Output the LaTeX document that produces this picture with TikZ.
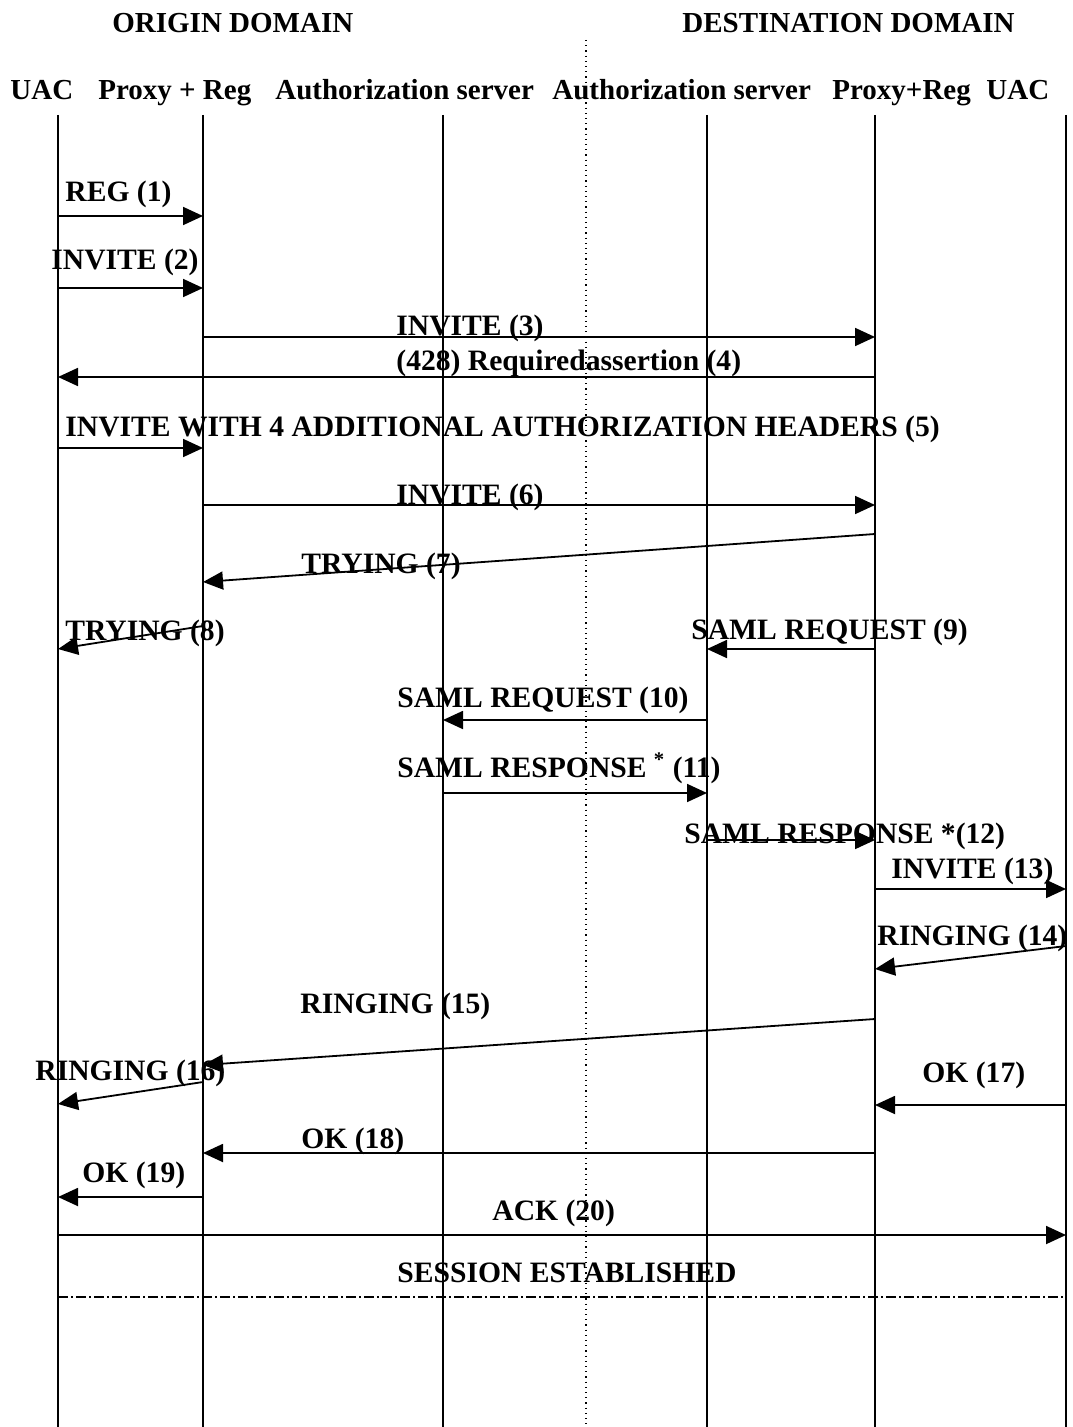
\documentclass[tikz,border=0pt]{standalone}
\usepackage{fontspec}
\setmainfont{Liberation Serif}
\usetikzlibrary{arrows.meta}

\begin{document}
\begin{tikzpicture}[x=0.5pt, y=-0.5pt,
		hdr/.style = {anchor=base west, inner sep=0pt, font=\fontsize{14.5}{17}\selectfont\bfseries},
		lbl/.style = {anchor=base west, inner sep=0pt, font=\fontsize{14.8}{17}\selectfont\bfseries},
		life/.style = {line width=0.8pt},
		msg/.style = {-{Triangle[length=10pt, width=9pt]}, line width=0.9pt},
		border/.style = {dotted, line width=0.6pt},
		sess/.style = {dash pattern=on 5pt off 1.5pt on 1pt off 1.5pt, line width=0.7pt}
		]
		\useasboundingbox (0,0) rectangle (1072,1427);
		
		%Lifelines
		\foreach \n/\x in {uacA/58, prxA/203, autA/443, autB/707, prxB/875, uacB/1066}{
			\coordinate (\n) at (\x,115);
			\coordinate (\n-end) at (\x,1427);
			\draw[life] (\n) -- (\n-end);
		}
		\coordinate (dom) at (586,40);
		\coordinate (dom-end) at (586,1427);
		\draw[border] (dom) -- (dom-end);
		
		%Nodes
		\node[hdr]	(orig)	at	(112, 33)	{ORIGIN DOMAIN};
		\node[hdr]	(dest)	at	(682, 33)	{DESTINATION DOMAIN};
		\node[hdr]	(h1)	at	(10, 100)	{UAC};
		\node[hdr]	(h2)	at	(98, 100)	{Proxy + Reg};
		\node[hdr]	(h3)	at	(275, 100)	{Authorization server};
		\node[hdr]	(h4)	at	(552, 100)	{Authorization server};
		\node[hdr]	(h5)	at	(832, 100)	{Proxy+Reg};
		\node[hdr]	(h6)	at	(986, 100)	{UAC};
		\node[lbl]	(m1)	at	(65, 202)	{REG (1)};
		\node[lbl]	(m2)	at	(51, 270)	{INVITE (2)};
		\node[lbl]	(m3)	at	(396, 336)	{INVITE (3)};
		\node[lbl]	(m4)	at	(396, 371)	{(428) Requiredassertion (4)};
		\node[lbl]	(m5)	at	(65, 437)	{INVITE WITH 4 ADDITIONAL AUTHORIZATION HEADERS (5)};
		\node[lbl]	(m6)	at	(396, 504)	{INVITE (6)};
		\node[lbl]	(m7)	at	(301, 573)	{TRYING (7)};
		\node[lbl]	(m8)	at	(65, 640)	{TRYING (8)};
		\node[lbl]	(m9)	at	(691, 639)	{SAML REQUEST (9)};
		\node[lbl]	(m10)	at	(397, 707)	{SAML REQUEST (10)};
		\node[lbl]	(m11)	at	(397, 777)	{SAML RESPONSE \textsuperscript{*} (11)};
		\node[lbl]	(m12)	at	(684, 843)	{SAML RESPONSE *(12)};
		\node[lbl]	(m13)	at	(891, 878)	{INVITE (13)};
		\node[lbl]	(m14)	at	(877, 945)	{RINGING (14)};
		\node[lbl]	(m15)	at	(300, 1013)	{RINGING (15)};
		\node[lbl]	(m16)	at	(35, 1080)	{RINGING (16)};
		\node[lbl]	(m17)	at	(922, 1082)	{OK (17)};
		\node[lbl]	(m18)	at	(301, 1148)	{OK (18)};
		\node[lbl]	(m19)	at	(82, 1182)	{OK (19)};
		\node[lbl]	(m20)	at	(492, 1220)	{ACK (20)};
		\node[lbl]	(sess)	at	(397, 1282)	{SESSION ESTABLISHED};
		
		%Lines
		\draw[msg]	(uacA |- 0,216)		--	(prxA |- 0,216);
		\draw[msg]	(uacA |- 0,288)		--	(prxA |- 0,288);
		\draw[msg]	(prxA |- 0,337)		--	(prxB |- 0,337);
		\draw[msg]	(prxB |- 0,377)		--	(uacA |- 0,377);
		\draw[msg]	(uacA |- 0,448)		--	(prxA |- 0,448);
		\draw[msg]	(prxA |- 0,505)		--	(prxB |- 0,505);
		\draw[msg]	(prxB |- 0,534)		--	(prxA |- 0,582);
		\draw[msg]	(prxA |- 0,626)		--	(uacA |- 0,649);
		\draw[msg]	(prxB |- 0,649)		--	(autB |- 0,649);
		\draw[msg]	(autB |- 0,720)		--	(autA |- 0,720);
		\draw[msg]	(autA |- 0,793)		--	(autB |- 0,793);
		\draw[msg]	(autB |- 0,840)		--	(prxB |- 0,840);
		\draw[msg]	(prxB |- 0,889)		--	(uacB |- 0,889);
		\draw[msg]	(uacB |- 0,946)		--	(prxB |- 0,969);
		\draw[msg]	(prxB |- 0,1019)	--	(prxA |- 0,1065);
		\draw[msg]	(prxA |- 0,1082)	--	(uacA |- 0,1104);
		\draw[msg]	(uacB |- 0,1105)	--	(prxB |- 0,1105);
		\draw[msg]	(prxB |- 0,1153)	--	(prxA |- 0,1153);
		\draw[msg]	(prxA |- 0,1197)	--	(uacA |- 0,1197);
		\draw[msg]	(uacA |- 0,1235)	--	(uacB |- 0,1235);
		\draw[sess]	(uacA |- 0,1297)	--	(uacB |- 0,1297);
	\end{tikzpicture}
\end{document}
